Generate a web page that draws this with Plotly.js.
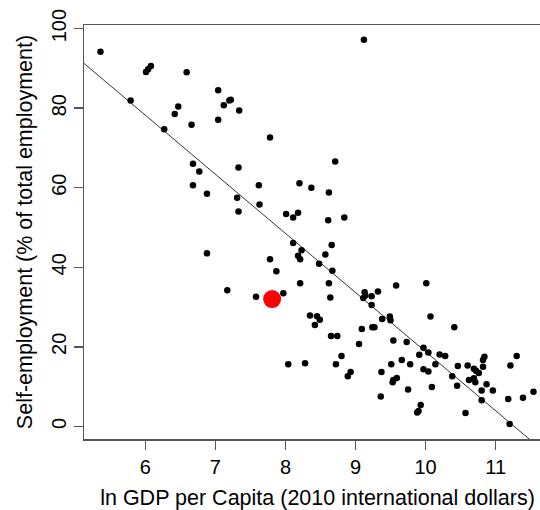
<!DOCTYPE html>
<html>
<head>
<meta charset="utf-8">
<script src="https://cdn.plot.ly/plotly-3.0.1.min.js"></script>
<style>
html, body { margin: 0; padding: 0; overflow: hidden; background: #fff; }
#chart { width: 560px; height: 510px; }
</style>
</head>
<body>
<div id="chart"></div>
<script>
// ln GDP per capita (x) and self-employment share (y) for each country
const lnGdp = [
  5.36, 6.01, 6.04, 6.08, 5.79, 6.59, 6.27, 6.47, 6.42, 6.66,
  7.04, 7.12, 7.20, 7.22, 7.34, 7.04, 7.78, 6.68, 6.77, 6.68,
  6.88, 7.33, 7.62, 7.31, 7.63, 7.33, 8.01, 8.11, 8.18, 8.20,
  8.37, 8.62, 8.71, 9.12, 8.61, 8.84, 6.88, 7.78, 7.87, 8.11,
  8.23, 8.18, 8.21, 8.21, 7.17, 7.58, 7.97, 8.04, 8.28, 8.66,
  8.57, 8.48, 8.67, 8.62, 8.64, 9.58, 10.01, 9.13, 9.14, 9.11,
  9.23, 9.32, 9.23, 8.35, 8.45, 8.49, 8.42, 9.38, 9.49, 9.50,
  10.07, 9.09, 9.24, 9.27, 10.41, 8.65, 8.74, 9.05, 9.54, 9.73,
  9.97, 10.04, 9.91, 10.20, 10.28, 8.80, 8.72, 9.51, 9.66, 9.78,
  10.14, 10.46, 10.60, 10.84, 10.82, 10.82, 11.30, 11.21, 10.69, 10.72,
  10.76, 8.93, 8.89, 9.37, 9.97, 10.04, 9.59, 9.54, 9.53, 10.38,
  10.62, 10.69, 10.71, 9.75, 10.09, 10.45, 10.87, 10.80, 10.96, 11.54,
  9.36, 10.80, 11.18, 11.39, 9.93, 9.90, 9.88, 10.57, 11.20
];
const selfEmployment = [
  94.2, 89.1, 89.8, 90.6, 81.9, 89.0, 74.7, 80.4, 78.5, 75.8,
  84.5, 80.7, 81.9, 82.1, 79.4, 77.1, 72.6, 66.0, 64.1, 60.6,
  58.5, 65.1, 60.6, 57.5, 55.8, 54.0, 53.4, 52.5, 53.7, 61.1,
  60.0, 58.8, 66.6, 97.2, 51.8, 52.5, 43.5, 42.0, 39.0, 46.1,
  44.3, 42.9, 42.0, 36.0, 34.2, 32.6, 33.5, 15.6, 15.9, 45.6,
  43.2, 40.9, 39.1, 36.0, 32.4, 35.4, 36.0, 33.7, 32.9, 32.3,
  32.7, 33.9, 30.5, 27.9, 27.7, 26.8, 25.5, 27.0, 27.6, 26.7,
  27.6, 24.5, 24.9, 24.9, 24.9, 22.7, 22.7, 20.7, 21.6, 21.2,
  19.8, 18.6, 18.0, 18.1, 17.7, 17.7, 15.6, 15.6, 16.7, 15.6,
  15.6, 15.2, 15.3, 17.5, 16.7, 15.0, 17.7, 15.3, 14.5, 14.0,
  13.4, 13.7, 12.6, 13.7, 14.4, 13.8, 12.2, 11.7, 11.1, 12.6,
  11.7, 12.1, 11.1, 9.3, 9.9, 10.2, 10.6, 9.0, 9.0, 8.7,
  7.5, 6.6, 6.9, 7.2, 5.4, 3.9, 3.5, 3.4, 0.6
];
// highlighted country
const highlightGdp = [7.81];
const highlightSelfEmployment = [32.0];
// fitted regression line: y = intercept + slope * x
const fitIntercept = 167.4;
const fitSlope = -14.86;
// axis ticks
const xTicks = [6, 7, 8, 9, 10, 11];
const yTicks = [0, 20, 40, 60, 80, 100];

const xRange = [5.125, 11.79];
const yRange = [-3.16, 100.9];
const fitX = xRange.slice();
const fitY = fitX.map(v => fitIntercept + fitSlope * v);

const font = 'Liberation Sans, Arial, sans-serif';
const axisColor = '#555';

const traces = [
  { x: fitX, y: fitY, type: 'scatter', mode: 'lines',
    line: { color: '#333', width: 1 }, hoverinfo: 'skip' },
  { x: lnGdp, y: selfEmployment, type: 'scatter', mode: 'markers',
    marker: { color: '#000', size: 6.5 } },
  { x: highlightGdp, y: highlightSelfEmployment, type: 'scatter', mode: 'markers',
    marker: { color: '#ff0000', size: 18 } }
];

const layout = {
  width: 560, height: 510,
  margin: { l: 84, r: 9, t: 25, b: 71 },
  paper_bgcolor: '#fff', plot_bgcolor: '#fff',
  showlegend: false,
  font: { family: font, color: '#000' },
  xaxis: {
    range: xRange, tickvals: xTicks, ticktext: xTicks.map(String),
    showline: true, mirror: true, linecolor: axisColor, linewidth: 1.5,
    ticks: 'outside', ticklen: 9, tickwidth: 1.5, tickcolor: axisColor,
    showgrid: false, zeroline: false,
    tickfont: { size: 20, family: font, color: '#000' },
    title: { text: 'ln GDP per Capita (2010 international dollars)',
             font: { size: 21.5, family: font, color: '#000' }, standoff: 15 }
  },
  yaxis: {
    range: yRange, tickvals: yTicks, ticktext: yTicks.map(String),
    tickangle: -90,
    showline: true, mirror: true, linecolor: axisColor, linewidth: 1.5,
    ticks: 'outside', ticklen: 9, tickwidth: 1.5, tickcolor: axisColor,
    showgrid: false, zeroline: false,
    tickfont: { size: 20, family: font, color: '#000' },
    title: { text: 'Self-employment (% of total employment)',
             font: { size: 21.5, family: font, color: '#000' }, standoff: 9 }
  }
};

Plotly.newPlot('chart', traces, layout, { displayModeBar: false, staticPlot: true });
</script>
</body>
</html>
